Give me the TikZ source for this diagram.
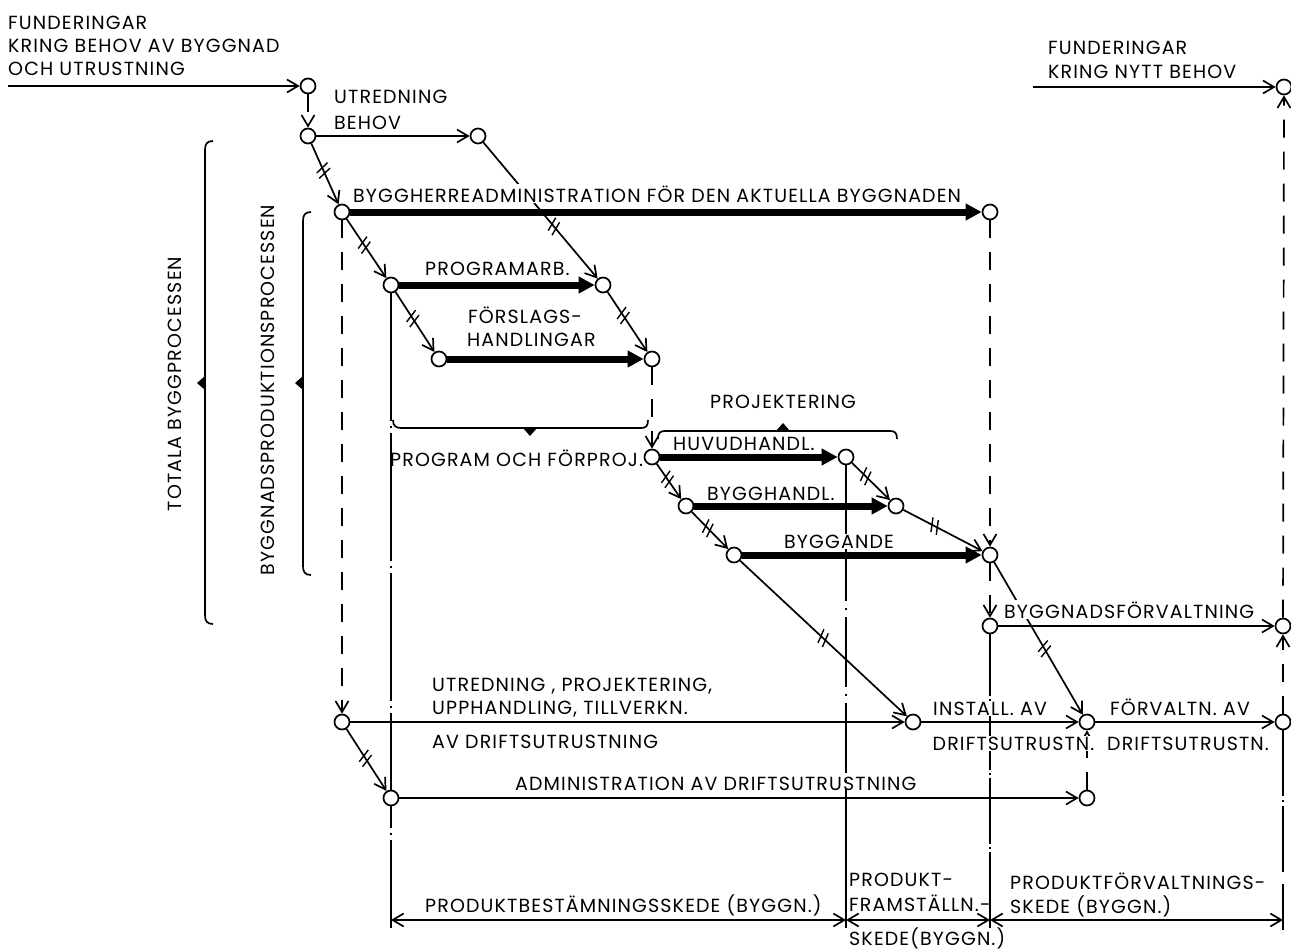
\documentclass[tikz,border=0pt]{standalone}
\usepackage{fontspec}
\setmainfont{Poppins}[LetterSpace=6]
\usetikzlibrary{arrows.meta,decorations.markings}

\begin{document}
\begin{tikzpicture}[x=1pt,y=-1pt,
  every node/.style={inner sep=0pt},
  pt/.style={circle,draw,fill=white,line width=1.7pt,minimum size=15pt},
  lbl/.style={font=\fontsize{19}{22}\selectfont,anchor=base west},
  mask/.style={fill=white,inner sep=1pt},
  ln/.style={line width=1.7pt,-{Straight Barb[length=11pt,width=13pt]}},
  plain/.style={line width=1.7pt},
  heavy/.style={line width=7pt,-{Triangle[length=16pt,width=16pt]}},
  dsh/.style={dash pattern=on 18pt off 14pt},
  tk/.style={postaction={decorate,decoration={markings,
     mark=at position #1 with {\draw[line width=1.4pt,-] (-6,-7)--(-1,7) (0,-7)--(5,7);}}}},
  brc/.style={line width=1.7pt},
  dim/.style={line width=1.7pt,{Straight Barb[length=11pt,width=13pt]}-{Straight Barb[length=11pt,width=13pt]}}
]
\useasboundingbox (0,0) rectangle (1291,950);

% event circles
\node[pt] (c0)  at (308,86)  {};
\node[pt] (c1)  at (308,136) {};
\node[pt] (c2)  at (478,136) {};
\node[pt] (c3)  at (342,212) {};
\node[pt] (c4)  at (990,212) {};
\node[pt] (c6)  at (391,285) {};
\node[pt] (c5)  at (603,285) {};
\node[pt] (c7)  at (439,359) {};
\node[pt] (c8)  at (652,359) {};
\node[pt] (c9)  at (652,457) {};
\node[pt] (c10) at (846,457) {};
\node[pt] (c11) at (686,506) {};
\node[pt] (c12) at (896,506) {};
\node[pt] (c13) at (734,555) {};
\node[pt] (c14) at (990,555) {};
\node[pt] (c15) at (990,626) {};
\node[pt] (cbf) at (1283,626) {};
\node[pt] (ctop) at (1284,87) {};
\node[pt] (c17) at (342,722) {};
\node[pt] (c18) at (913,722) {};
\node[pt] (c19) at (1087,722) {};
\node[pt] (c22) at (1283,722) {};
\node[pt] (c20) at (391,798) {};
\node[pt] (c21) at (1087,798) {};

% free ends
\coordinate (s0) at (8,86);
\coordinate (s1) at (1033,87);
\coordinate (v1a) at (391,840);
\coordinate (v1b) at (391,928);
\coordinate (v2a) at (846,590);
\coordinate (v2b) at (846,856);
\coordinate (v2c) at (846,928);
\coordinate (v3a) at (990,852);
\coordinate (v3b) at (990,928);
\coordinate (v4a) at (1283,876);
\coordinate (v4b) at (1283,884);
\coordinate (v4c) at (1283,930);
\coordinate (d1) at (391,920);
\coordinate (d2) at (846,920);
\coordinate (d3) at (990,920);
\coordinate (d4) at (1283,920);

% thin activity arrows
\draw[ln] (s0) -- (c0);
\draw[ln,dsh] (c0) -- (c1);
\draw[ln] (c1) -- (c2);
\draw[ln,tk=0.45] (c1) -- (c3);
\draw[ln,tk=0.62] (c2) -- (c5);
\draw[ln,tk=0.45] (c3) -- (c6);
\draw[ln,tk=0.45] (c6) -- (c7);
\draw[ln,tk=0.40] (c5) -- (c8);
\draw[ln,dsh] (c8) -- (c9);
\draw[ln,tk=0.45] (c9) -- (c11);
\draw[ln,tk=0.45] (c11) -- (c13);
\draw[ln,tk=0.37] (c10) -- (c12);
\draw[ln,tk=0.40] (c12) -- (c14);
\draw[ln,dsh] (c4) -- (c14);
\draw[ln,dsh] (c14) -- (c15);
\draw[ln] (c15) -- (cbf);
\draw[ln,tk=0.57] (c14) -- (c19);
\draw[ln,tk=0.50] (c13) -- (c18);
\draw[ln,dsh] (c3) -- (c17);
\draw[ln] (c17) -- (c18);
\draw[ln] (c18) -- (c19);
\draw[ln] (c19) -- (c22);
\draw[ln,tk=0.48] (c17) -- (c20);
\draw[ln] (c20) -- (c21);
\draw[ln,dsh] (c21) -- (c19);
\draw[ln,dsh] (c22) -- (cbf);
\draw[ln,dsh] (cbf) -- (ctop);
\draw[ln] (s1) -- (ctop);

% stage boundaries
\draw[plain,dash pattern=on 128pt off 5pt on 2pt off 5pt] (c6) -- (c20);
\draw[plain,dash pattern=on 22pt off 5pt on 2pt off 5pt] (c20) -- (v1a);
\draw[plain] (v1a) -- (v1b);
\draw[plain] (c10) -- (v2a);
\draw[plain,dash pattern=on 70pt off 7pt on 2pt off 7pt,dash phase=59pt] (v2a) -- (v2b);
\draw[plain] (v2b) -- (v2c);
\draw[plain,dash pattern=on 66pt off 3pt on 2pt off 3pt,dash phase=4pt] (c15) -- (v3a);
\draw[plain] (v3a) -- (v3b);
\draw[plain,dash pattern=on 66pt off 4pt on 2pt off 4pt] (c22) -- (v4a);
\draw[plain] (v4b) -- (v4c);

% stage dimension arrows
\draw[dim] (d1) -- (d2);
\draw[dim] (d2) -- (d3);
\draw[dim] (d3) -- (d4);

% braces
\draw[brc] (213,141) .. controls (207,141) and (205,144) .. (205,150) -- (205,615) .. controls (205,621) and (207,624) .. (213,624);
\fill (205,376) -- (197,383) -- (205,390) -- cycle;
\draw[brc] (311,212) .. controls (305,212) and (303,215) .. (303,221) -- (303,566) .. controls (303,572) and (305,575) .. (311,575);
\fill (303,376) -- (295,383) -- (303,390) -- cycle;
\draw[brc] (393,420) .. controls (393,426) and (396,428) .. (401,428) -- (641,428) .. controls (646,428) and (648,426) .. (648,420);
\fill (523,428) -- (530,436) -- (537,428) -- cycle;
\draw[brc] (658,439) .. controls (658,433) and (660,431) .. (665,431) -- (890,431) .. controls (895,431) and (897,433) .. (897,439);
\fill (776,431) -- (783,423) -- (790,431) -- cycle;

% main (heavy) activities
\draw[heavy] (c3) -- (c4);
\draw[heavy] (c6) -- (c5);
\draw[heavy] (c7) -- (c8);
\draw[heavy] (c9) -- (c10);
\draw[heavy] (c11) -- (c12);
\draw[heavy] (c13) -- (c14);

% labels
\node[lbl] (t1) at (8,30) {FUNDERINGAR};
\node[lbl] (t2) at (8,53) {KRING BEHOV AV BYGGNAD};
\node[lbl] (t3) at (8,76) {OCH UTRUSTNING};
\node[lbl] (t4) at (334,103) {UTREDNING};
\node[lbl] (t5) at (334,129) {BEHOV};
\node[lbl,mask] (t6) at (352,202) {BYGGHERREADMINISTRATION FÖR DEN AKTUELLA BYGGNADEN};
\node[lbl] (t7) at (425,275) {PROGRAMARB.};
\node[lbl] (t8) at (468,323) {FÖRSLAGS-};
\node[lbl] (t9) at (467,346) {HANDLINGAR};
\node[lbl,anchor=base] (t10) at (783,408) {PROJEKTERING};
\node[lbl] (t11) at (390,466) {PROGRAM OCH FÖRPROJ.};
\node[lbl] (t12) at (673,450) {HUVUDHANDL.};
\node[lbl] (t13) at (707,500) {BYGGHANDL.};
\node[lbl,mask] (t14) at (783,548) {BYGGANDE};
\node[lbl,mask] (t15) at (1003,618) {BYGGNADSFÖRVALTNING};
\node[lbl] (t16) at (432,691) {UTREDNING , PROJEKTERING,};
\node[lbl] (t17) at (432,714) {UPPHANDLING, TILLVERKN.};
\node[lbl] (t18) at (432,748) {AV DRIFTSUTRUSTNING};
\node[lbl] (t19) at (515,790) {ADMINISTRATION AV DRIFTSUTRUSTNING};
\node[lbl,mask] (t20) at (932,715) {INSTALL. AV};
\node[lbl,mask,inner sep=0.5pt] (t21) at (932,750) {DRIFTSUTRUSTN.};
\node[lbl] (t22) at (1110,715) {FÖRVALTN. AV};
\node[lbl] (t23) at (1107,750) {DRIFTSUTRUSTN.};
\node[lbl] (t24) at (1048,55) {FUNDERINGAR};
\node[lbl] (t25) at (1048,78) {KRING NYTT BEHOV};
\node[lbl] (t26) at (425,912) {PRODUKTBESTÄMNINGSSKEDE (BYGGN.)};
\node[lbl] (t27) at (849,886) {PRODUKT-};
\node[lbl] (t28) at (849,911) {FRAMSTÄLLN.-};
\node[lbl] (t29) at (849,945) {SKEDE(BYGGN.)};
\node[lbl] (t30) at (1010,889) {PRODUKTFÖRVALTNINGS-};
\node[lbl] (t31) at (1010,913) {SKEDE (BYGGN.)};
\node[lbl,anchor=base,rotate=90] (t32) at (181,384) {TOTALA BYGGPROCESSEN};
\node[lbl,anchor=base,rotate=90] (t33) at (274,390) {BYGGNADSPRODUKTIONSPROCESSEN};
\end{tikzpicture}
\end{document}
